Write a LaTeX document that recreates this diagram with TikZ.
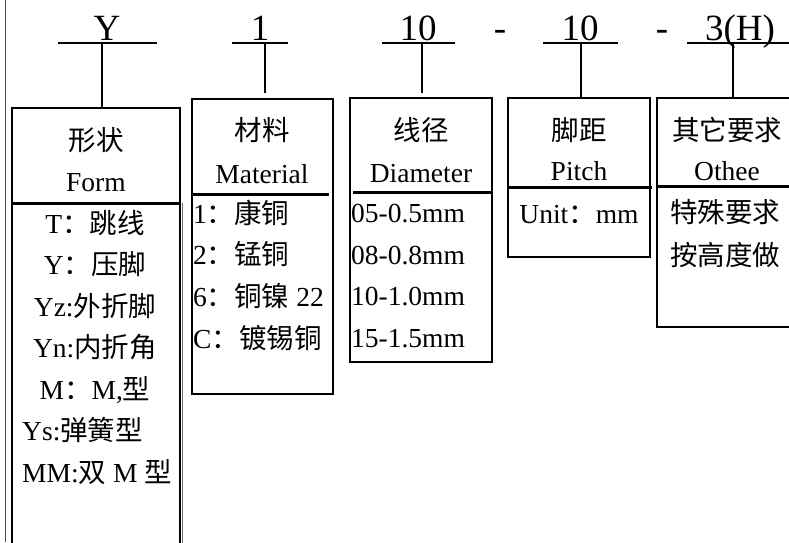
\documentclass[tikz,border=0pt]{standalone}
\usepackage{fontspec}
\setmainfont{Liberation Serif}
\newfontfamily\cjk{Noto Sans CJK SC}
\newcommand{\zh}[1]{{\cjk #1}}

\begin{document}
\begin{tikzpicture}[x=1pt, y=-1pt,
    code/.style={font=\fontsize{37}{40}\selectfont, inner sep=0pt, anchor=base},
    txt/.style={font=\fontsize{27.5}{30}\selectfont, inner sep=0pt, anchor=base},
    ltxt/.style={txt, anchor=base west},
    box/.style={draw, line width=1.6pt, inner sep=0pt, outer sep=0pt, anchor=north west},
    sep/.style={line width=3pt},
    tap/.style={line width=1.5pt}]
\useasboundingbox (0,0) rectangle (789,542);
\draw[black!70, line width=1pt] (5,0)--(5,542);

\node[code] (cY) at (107,40) {Y};
\node[code] (c1) at (260,40) {1};
\node[code] (cDia) at (418,40) {10};
\node[code] (dash1) at (500,40) {-};
\node[code] (cPitch) at (580,40) {10};
\node[code] (dash2) at (662,40) {-};
\node[code] (cOther) at (740,40) {3(H)};

\draw[line width=1.3pt] (58,43)--(157,43);
\draw[line width=1.3pt] (232,43)--(288,43);
\draw[line width=1.3pt] (382,43)--(455,43);
\draw[line width=1.3pt] (543,43)--(618,43);
\draw[line width=1.3pt] (687,43)--(792,43);

\node[box, minimum width=168pt, minimum height=460pt] (form) at (12,108) {};
\node[box, minimum width=141pt, minimum height=295pt] (mat) at (192,99) {};
\node[box, minimum width=142pt, minimum height=264pt] (dia) at (350,98) {};
\node[box, minimum width=142pt, minimum height=159pt] (pitch) at (508,98) {};
\node[box, minimum width=140pt, minimum height=229pt] (other) at (657,98) {};
\draw[black!60, line width=0.8pt] (182.5,203)--(182.5,545);

\coordinate (tY) at (102,43);
\coordinate (t1) at (265,43);
\coordinate (tDia) at (422,43);
\coordinate (tPitch) at (581,43);
\coordinate (tOther) at (733,43);
\coordinate (e1) at (265,93);
\coordinate (eDia) at (422,93);

\draw[line width=2.5pt] (tY)--(tY |- form.north);
\draw[tap] (t1)--(e1);
\draw[tap] (tDia)--(eDia);
\draw[tap] (tPitch)--(tPitch |- pitch.north);
\draw[tap] (tOther)--(tOther |- other.north);

\draw[sep] (12,203)--(180,203);
\draw[sep] (192,194)--(329,194);
\draw[sep] (353,192.5)--(491,192.5);
\draw[sep] (508,187)--(652,187);
\draw[sep] (657,186)--(792,186);

\node[txt] (formZh) at (96,150) {\zh{形状}};
\node[txt] (formEn) at (96,191) {Form};
\node[txt] (f1) at (95,233) {T\zh{：跳线}};
\node[txt] (f2) at (95,274.5) {Y\zh{：压脚}};
\node[txt] (f3) at (95,316) {Yz:\zh{外折脚}};
\node[txt] (f4) at (95,357.5) {Yn:\zh{内折角}};
\node[txt] (f5) at (95,399) {M\zh{：}M,\zh{型}};
\node[ltxt] (f6) at (22,440.5) {Ys:\zh{弹簧型}};
\node[ltxt] (f7) at (22,482) {MM:\zh{双} M \zh{型}};

\node[txt] (matZh) at (262,140) {\zh{材料}};
\node[txt] (matEn) at (262,183) {Material};
\node[ltxt] (m1) at (193,223) {1\zh{：康铜}};
\node[ltxt] (m2) at (193,264.5) {2\zh{：锰铜}};
\node[ltxt] (m3) at (193,306) {6\zh{：铜镍} 22};
\node[ltxt] (m4) at (193,348) {C\zh{：镀锡铜}};

\node[txt] (diaZh) at (421,140) {\zh{线径}};
\node[txt] (diaEn) at (421,182) {Diameter};
\node[ltxt] (d1) at (351,222) {05-0.5mm};
\node[ltxt] (d2) at (351,264) {08-0.8mm};
\node[ltxt] (d3) at (351,305.5) {10-1.0mm};
\node[ltxt] (d4) at (351,347) {15-1.5mm};

\node[txt] (pitchZh) at (579,140) {\zh{脚距}};
\node[txt] (pitchEn) at (579,180) {Pitch};
\node[txt] (p1) at (579,223) {Unit\zh{：}mm};

\node[txt] (otherZh) at (727,140) {\zh{其它要求}};
\node[txt] (otherEn) at (727,180) {Othee};
\node[txt] (o1) at (725,222) {\zh{特殊要求}};
\node[txt] (o2) at (725,265) {\zh{按高度做}};
\end{tikzpicture}
\end{document}
